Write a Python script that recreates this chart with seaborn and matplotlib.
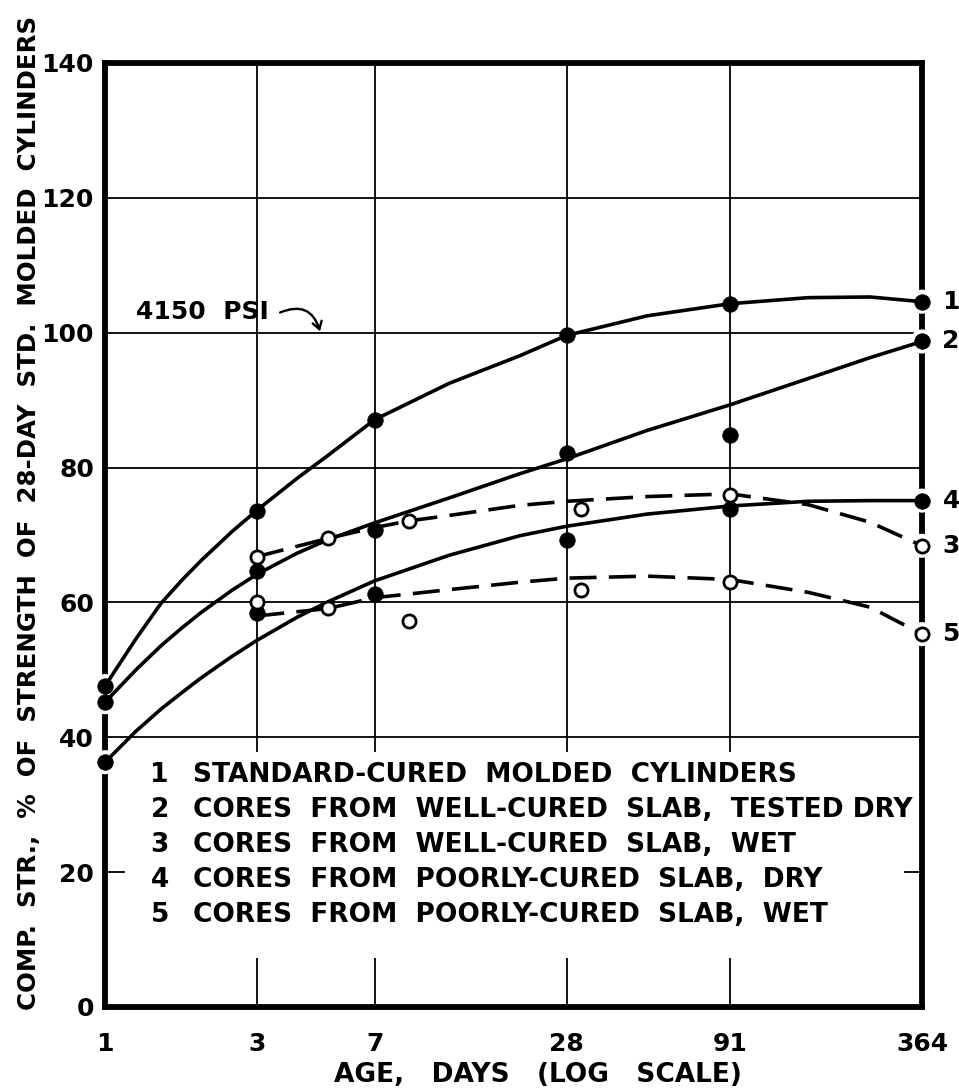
import numpy as np
import pandas as pd
import matplotlib
matplotlib.use("Agg")
import matplotlib.pyplot as plt
import seaborn as sns
from matplotlib.patches import Rectangle
from matplotlib.ticker import FixedLocator, NullLocator, FixedFormatter

# ---------------- data ----------------
x_ticks = [1, 3, 7, 28, 91, 364]
x_tick_labels = ["1", "3", "7", "28", "91", "364"]
y_ticks = [0, 20, 40, 60, 80, 100, 120, 140]

# measured points (filled = dry / molded, open = wet)
s1_x = [1, 3, 7, 28, 91, 364]
s1_y = [47.6, 73.6, 87.1, 99.6, 104.3, 104.6]
s2_x = [1, 3, 7, 28, 91, 364]
s2_y = [45.2, 64.6, 70.8, 82.2, 84.9, 98.7]
s3_x = [3, 5, 9, 31, 91, 364]
s3_y = [66.8, 69.5, 72.1, 73.8, 76.0, 68.4]
s4_x = [1, 3, 7, 28, 91, 364]
s4_y = [36.3, 58.5, 61.2, 69.2, 73.9, 75.1]
s5_x = [3, 5, 9, 31, 91, 364]
s5_y = [60.0, 59.1, 57.3, 61.9, 63.1, 55.3]

# hand-drawn trend curves
c_x = [1, 1.25, 1.5, 1.75, 2, 2.5, 3, 4, 5, 7, 12, 20, 28, 50, 91, 160, 250, 364]
c1_y = [47.6, 54.6, 59.9, 63.4, 66.2, 70.5, 73.7, 78.4, 81.8, 87.1, 92.5, 96.6, 99.6,
        102.5, 104.3, 105.2, 105.3, 104.6]
c2_y = [45.2, 50.0, 53.6, 56.3, 58.5, 61.8, 64.2, 67.3, 69.3, 71.8, 75.5, 79.1, 81.3,
        85.5, 89.3, 93.2, 96.3, 98.7]
c4_y = [36.3, 40.9, 44.2, 46.7, 48.8, 52.0, 54.4, 57.8, 60.1, 63.2, 67.0, 69.9, 71.3,
        73.1, 74.3, 75.0, 75.1, 75.1]
c3_x = [3, 5, 7, 9, 12, 20, 28, 50, 91, 160, 250, 364]
c3_y = [66.8, 69.5, 71.1, 72.1, 72.9, 74.4, 75.0, 75.7, 76.1, 74.5, 71.9, 68.4]
c5_x = [3, 5, 7, 12, 20, 28, 50, 91, 160, 250, 364]
c5_y = [58.0, 59.1, 60.7, 61.9, 63.0, 63.6, 63.9, 63.4, 61.5, 59.3, 55.3]

legend_numbers = ["1", "2", "3", "4", "5"]
legend_texts = [
    "STANDARD-CURED  MOLDED  CYLINDERS",
    "CORES  FROM  WELL-CURED  SLAB,  TESTED DRY",
    "CORES  FROM  WELL-CURED  SLAB,  WET",
    "CORES  FROM  POORLY-CURED  SLAB,  DRY",
    "CORES  FROM  POORLY-CURED  SLAB,  WET",
]
end_labels = ["1", "2", "3", "4", "5"]
annot_text = "4150  PSI"
annot_xy = (4.72, 100.2)
annot_text_xy = (1.25, 103.0)
annot_tail = (3.54, 103.0)
x_label = "AGE,   DAYS   (LOG   SCALE)"
y_label = "COMP.  STR.,  %  OF  STRENGTH  OF  28-DAY  STD.  MOLDED  CYLINDERS"

# ---------------- style ----------------
sns.set_theme(style="white")
plt.rcParams["font.family"] = ["DejaVu Sans"]
plt.rcParams["font.weight"] = "bold"
plt.rcParams["text.color"] = "black"

fig = plt.figure(figsize=(9.59, 10.90), dpi=100)
ax = fig.add_axes([105 / 959, 1 - 1007 / 1090, 817 / 959, 944 / 1090])

LW = 2.6
ax.set_xscale("log")
ax.set_xlim(1, 364)
ax.set_ylim(0, 140)

ax.xaxis.set_major_locator(FixedLocator(x_ticks))
ax.xaxis.set_major_formatter(FixedFormatter(x_tick_labels))
ax.xaxis.set_minor_locator(NullLocator())
ax.yaxis.set_major_locator(FixedLocator(y_ticks))
ax.yaxis.set_minor_locator(NullLocator())
ax.tick_params(axis="both", length=0, labelsize=18, colors="black")
ax.tick_params(axis="x", pad=18)
ax.tick_params(axis="y", pad=8)
for t in ax.get_xticklabels() + ax.get_yticklabels():
    t.set_fontweight("bold")

ax.set_axisbelow(True)
ax.grid(True, which="major", color="black", linewidth=1.3)
for sp in ax.spines.values():
    sp.set_visible(True)
    sp.set_color("black")
    sp.set_linewidth(4.2)

# white area for the key (interrupts grid lines)
ax.add_patch(Rectangle((0.0245, 0.052), 0.954, 0.218, transform=ax.transAxes,
                       facecolor="white", edgecolor="none", zorder=1))

# curves
solid = dict(color="black", linewidth=LW, estimator=None, sort=False, legend=False, zorder=3.5)
sns.lineplot(x=c_x, y=c1_y, ax=ax, **solid)
sns.lineplot(x=c_x, y=c2_y, ax=ax, **solid)
sns.lineplot(x=c_x, y=c4_y, ax=ax, **solid)
sns.lineplot(x=c3_x, y=c3_y, ax=ax, **solid)
sns.lineplot(x=c5_x, y=c5_y, ax=ax, **solid)
for ln in ax.lines:
    ln.set_solid_joinstyle("round")
    ln.set_dash_joinstyle("round")
for ln in ax.lines[-2:]:
    ln.set_dashes((7.5, 3.4))

# halos for the points sitting on the frame
for xs, ys in [(s1_x, s1_y), (s2_x, s2_y), (s3_x, s3_y), (s4_x, s4_y), (s5_x, s5_y)]:
    ex = [xx for xx in xs if xx in (x_ticks[0], x_ticks[-1])]
    ey = [yy for xx, yy in zip(xs, ys) if xx in (x_ticks[0], x_ticks[-1])]
    sns.scatterplot(x=ex, y=ey, ax=ax, s=300, color="white", edgecolor="none",
                    zorder=3, legend=False)
# markers
for xs, ys in [(s1_x, s1_y), (s2_x, s2_y), (s4_x, s4_y)]:
    sns.scatterplot(x=xs, y=ys, ax=ax, s=125, color="black", edgecolor="black",
                    linewidth=0.5, zorder=4, legend=False)
for xs, ys in [(s3_x, s3_y), (s5_x, s5_y)]:
    sns.scatterplot(x=xs, y=ys, ax=ax, s=90, color="white", edgecolor="black",
                    linewidth=2.0, zorder=4, legend=False)
for coll in ax.collections:
    coll.set_clip_on(False)

# end labels
for lab, ys in zip(end_labels, [s1_y, s2_y, s3_y, s4_y, s5_y]):
    ax.annotate(lab, xy=(x_ticks[-1], ys[-1]), xytext=(21, 0), textcoords="offset points",
                ha="center", va="center", fontsize=18, fontweight="bold", color="black",
                annotation_clip=False)

# key text
for i, (num, txt) in enumerate(zip(legend_numbers, legend_texts)):
    yy = 0.2458 - i * 0.0370
    ax.text(0.067, yy, num, transform=ax.transAxes, ha="center", va="center",
            fontsize=19, fontweight="bold", color="black", zorder=5)
    ax.text(0.108, yy, txt, transform=ax.transAxes, ha="left", va="center",
            fontsize=19, fontweight="bold", color="black", zorder=5)

# 4150 PSI annotation
ax.text(annot_text_xy[0], annot_text_xy[1], annot_text, fontsize=18, fontweight="bold",
        ha="left", va="center", color="black")
ax.annotate("", xy=annot_xy, xytext=annot_tail,
            arrowprops=dict(arrowstyle="->,head_length=0.45,head_width=0.28",
                            connectionstyle="arc3,rad=-0.55", color="black",
                            lw=1.7, shrinkA=0, shrinkB=0))

ax.set_xlabel(x_label, fontsize=19, fontweight="bold", color="black", va="center")
ax.xaxis.set_label_coords(0.530, -0.072)
ylab = ax.set_ylabel(y_label, fontsize=18, fontweight="bold", color="black", va="center")
ax.yaxis.set_label_coords(-0.093, 0.523)

# fit the long y label to the length it has in the reference (~1000 px)
renderer = fig.canvas.get_renderer()
h = ylab.get_window_extent(renderer).height
ylab.set_fontsize(18 * 995.0 / h)

fig.savefig("out.png", dpi=100)
